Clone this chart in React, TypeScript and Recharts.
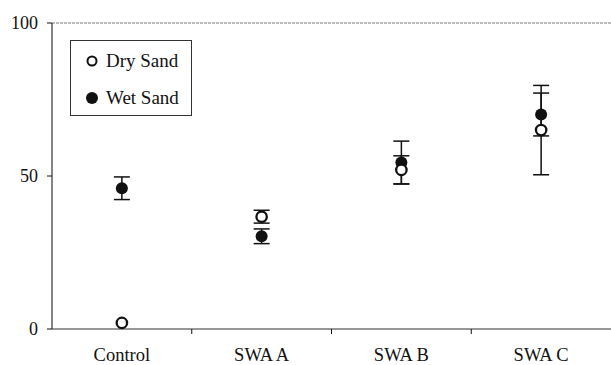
import { ComposedChart, Line, ErrorBar, XAxis, YAxis, ReferenceLine, Legend } from 'recharts';

// treatment groups
const categories = ['Control', 'SWA A', 'SWA B', 'SWA C'];
const drySand = [2, 36.7, 52, 65];
const drySandErr = [0, 2.1, 4.6, 14.6];
const wetSand = [46, 30.3, 54.4, 70.1];
const wetSandErr = [3.7, 2.4, 7, 7];
const yTicks = [0, 50, 100];

const W = 611;
const H = 365;
const Y_AXIS_W = 52;
const HALF_BAND = (W - Y_AXIS_W) / categories.length / 2;
const FONT = 'Liberation Serif, DejaVu Serif, serif';
const INK = '#111';

const data = categories.map((name, i) => ({
  name,
  dry: drySand[i],
  dryErr: drySandErr[i],
  wet: wetSand[i],
  wetErr: wetSandErr[i],
}));

// label centred in the band, tick mark on the band boundary
function CategoryTick(props: any) {
  const { x, y, payload, index } = props;
  return (
    <g>
      {index > 0 && <line x1={x - HALF_BAND} x2={x - HALF_BAND} y1={y} y2={y + 5} stroke={INK} strokeWidth={1} />}
      <text x={x} y={y + 32} textAnchor="middle" fill={INK} style={{ fontFamily: FONT, fontSize: 18.5 }}>
        {payload.value}
      </text>
    </g>
  );
}

const openDot = (p: any) => (
  <circle key={`d-${p.index}`} cx={p.cx} cy={p.cy} r={5.2} fill="#fff" stroke={INK} strokeWidth={2.3} />
);
const filledDot = (p: any) => <circle key={`w-${p.index}`} cx={p.cx} cy={p.cy} r={6} fill={INK} />;

function LegendBox() {
  const row = (filled: boolean, label: string) => (
    <div style={{ display: 'flex', alignItems: 'center', height: 37 }}>
      <svg width={22} height={16}>
        {filled ? (
          <circle cx={10} cy={8} r={6} fill={INK} />
        ) : (
          <circle cx={10} cy={8} r={4.5} fill="#fff" stroke={INK} strokeWidth={2} />
        )}
      </svg>
      <span style={{ fontFamily: FONT, fontSize: 19, color: INK, marginLeft: 2 }}>{label}</span>
    </div>
  );
  return (
    <div
      style={{
        boxSizing: 'border-box',
        width: 122,
        height: 76,
        border: '1px solid #333',
        padding: '1px 0 0 11px',
        background: '#fff',
      }}
    >
      {row(false, 'Dry Sand')}
      {row(true, 'Wet Sand')}
    </div>
  );
}

export default function App() {
  return (
    <div style={{ position: 'absolute', left: 0, top: 0, width: W, height: H, background: '#fff' }}>
      <ComposedChart width={W} height={H} data={data} margin={{ top: 23, right: 0, left: 0, bottom: 0 }}>
        <XAxis
          dataKey="name"
          scale="band"
          height={36}
          tickLine={false}
          tickSize={0}
          tickMargin={0}
          axisLine={{ stroke: '#333', strokeWidth: 1.2 }}
          tick={<CategoryTick />}
          interval={0}
        />
        <YAxis
          width={Y_AXIS_W}
          domain={[0, 100]}
          ticks={yTicks}
          tickSize={5}
          tickMargin={9}
          tickLine={{ stroke: INK }}
          axisLine={{ stroke: '#333', strokeWidth: 1.2 }}
          tick={{ fill: INK, style: { fontFamily: FONT, fontSize: 18 } }}
        />
        <ReferenceLine y={100} stroke="#777" strokeDasharray="3 1" />
        <Legend
          layout="horizontal"
          verticalAlign="middle"
          align="center"
          content={<LegendBox />}
          wrapperStyle={{ left: 70, top: 40, width: 122, height: 76 }}
        />
        <Line dataKey="wet" stroke="none" dot={filledDot} activeDot={false} isAnimationActive={false}>
          <ErrorBar dataKey="wetErr" width={8} stroke={INK} strokeWidth={1.5} />
        </Line>
        <Line dataKey="dry" stroke="none" dot={openDot} activeDot={false} isAnimationActive={false}>
          <ErrorBar dataKey="dryErr" width={8} stroke={INK} strokeWidth={1.5} />
        </Line>
      </ComposedChart>
    </div>
  );
}
